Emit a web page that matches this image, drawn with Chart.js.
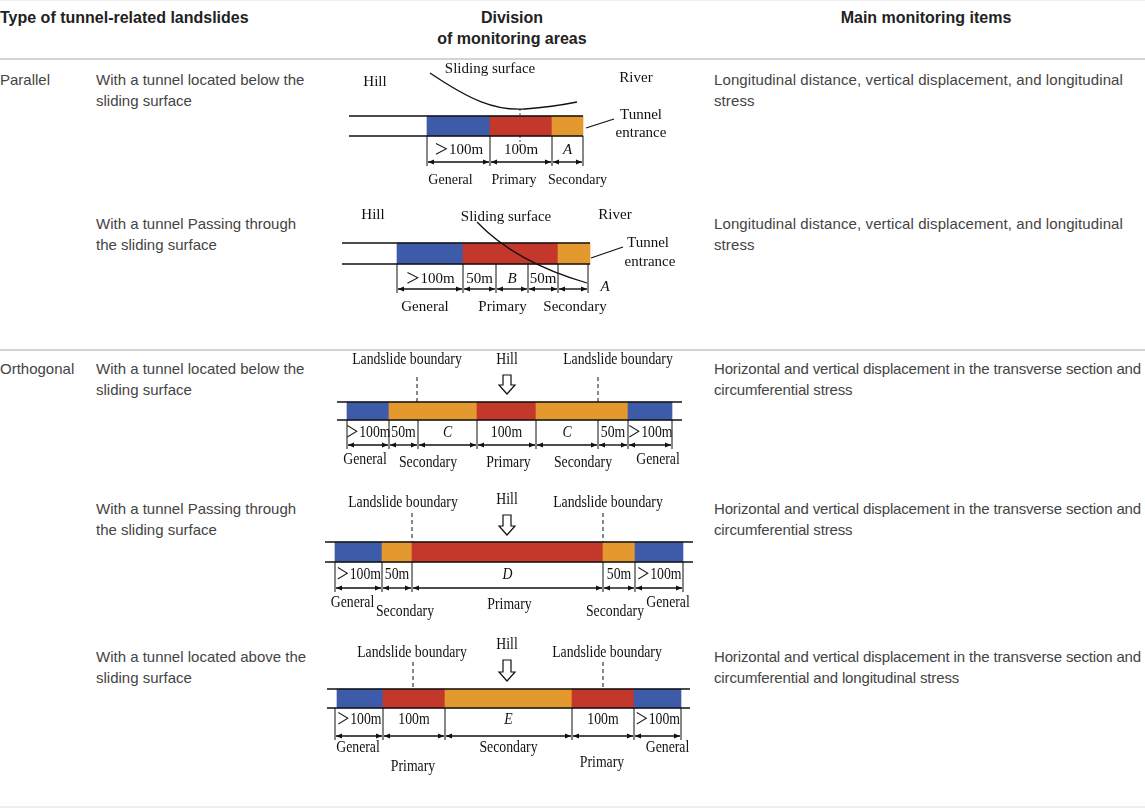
<!DOCTYPE html>
<html>
<head>
<meta charset="utf-8">
<script src="https://cdn.jsdelivr.net/npm/chart.js@4.4.1/dist/chart.umd.min.js"></script>
<style>
  html, body { margin: 0; padding: 0; background: #fff; }
  #page { position: relative; width: 1145px; height: 809px; overflow: hidden; }
  #diagrams { position: absolute; left: 0; top: 0; }
  .t { position: absolute; font-family: "Liberation Sans", Arial, sans-serif; font-size: 15px; line-height: 21px; color: #444; white-space: nowrap; }
  .h { font-weight: bold; color: #222; font-size: 16px; }
  .c { text-align: center; width: 240px; }
  .n { letter-spacing: -0.15px; }
  .rule { position: absolute; left: 0; width: 1145px; height: 2px; background: #d4d4d4; }
</style>
</head>
<body>
<div id="page">
  <div class="rule" style="top:0;height:1px;background:#eee"></div>
  <div class="rule" style="top:58px"></div>
  <div class="rule" style="top:349px"></div>
  <div class="rule" style="top:806px;background:#eee"></div>

  <div class="t h" style="left:0;top:7px">Type of tunnel-related landslides</div>
  <div class="t h c" style="left:392px;top:7px">Division<br>of monitoring areas</div>
  <div class="t h c" style="left:806px;top:7px">Main monitoring items</div>

  <div class="t" style="left:0;top:69px">Parallel</div>
  <div class="t" style="left:96px;top:69px">With a tunnel located below the<br>sliding surface</div>
  <div class="t" style="left:714px;top:69px;letter-spacing:0.1px">Longitudinal distance, vertical displacement, and longitudinal<br>stress</div>

  <div class="t" style="left:96px;top:213px">With a tunnel Passing through<br>the sliding surface</div>
  <div class="t" style="left:714px;top:213px;letter-spacing:0.1px">Longitudinal distance, vertical displacement, and longitudinal<br>stress</div>

  <div class="t" style="left:0;top:358px">Orthogonal</div>
  <div class="t" style="left:96px;top:358px">With a tunnel located below the<br>sliding surface</div>
  <div class="t n" style="left:714px;top:358px">Horizontal and vertical displacement in the transverse section and<br>circumferential stress</div>

  <div class="t" style="left:96px;top:498px">With a tunnel Passing through<br>the sliding surface</div>
  <div class="t n" style="left:714px;top:498px">Horizontal and vertical displacement in the transverse section and<br>circumferential stress</div>

  <div class="t" style="left:96px;top:646px">With a tunnel located above the<br>sliding surface</div>
  <div class="t n" style="left:714px;top:646px">Horizontal and vertical displacement in the transverse section and<br>circumferential and longitudinal stress</div>

  <canvas id="diagrams" width="1145" height="809"></canvas>
</div>

<script>
const zoneColors = { General: '#3e5ba9', Primary: '#c4372b', Secondary: '#e4992f' };

// parallel, tunnel below the sliding surface
const pbZones = ['General', 'Primary', 'Secondary'];
const pbLengths = [63, 62, 31];
const pbDimLabels = ['＞100m', '100m', 'A'];
const pbDimLengths = [63, 62, 31];

// parallel, tunnel passing through the sliding surface
const ptZones = ['General', 'Primary', 'Secondary'];
const ptLengths = [66, 95, 32];
const ptDimLabels = ['＞100m', '50m', 'B', '50m', 'A'];
const ptDimLengths = [66, 33, 32, 30, 30];

// orthogonal, tunnel below the sliding surface
const obZones = ['General', 'Secondary', 'Primary', 'Secondary', 'General'];
const obLengths = [42, 88, 59, 92, 44];
const obDimLabels = ['＞100m', '50m', 'C', '100m', 'C', '50m', '＞100m'];
const obDimLengths = [42, 29, 59, 59, 62, 30, 44];

// orthogonal, tunnel passing through the sliding surface
const otZones = ['General', 'Secondary', 'Primary', 'Secondary', 'General'];
const otLengths = [47, 30, 191, 32, 48];
const otDimLabels = ['＞100m', '50m', 'D', '50m', '＞100m'];
const otDimLengths = [47, 30, 191, 32, 48];

// orthogonal, tunnel above the sliding surface
const oaZones = ['General', 'Primary', 'Secondary', 'Primary', 'General'];
const oaLengths = [46, 62, 127, 62, 47];
const oaDimLabels = ['＞100m', '100m', 'E', '100m', '＞100m'];
const oaDimLengths = [48, 62, 127, 62, 47];

// where each sketch sits on the page
const diagrams = [
  { zones: pbZones, lengths: pbLengths, dims: pbDimLabels, dimLengths: pbDimLengths,
    start: 427, dimStart: 427, barY: 126, barH: 20, tube: [349, 583],
    dimTextY: 150, arrowY: 162, font: 15, zoneFont: 14, sx: 1,
    zoneY: [180, 180, 180], zoneDx: [-8, -7, 10], dimDx: [0, 0, 0], dimDy: [0, 0, 0] },
  { zones: ptZones, lengths: ptLengths, dims: ptDimLabels, dimLengths: ptDimLengths,
    start: 397, dimStart: 397, barY: 253.5, barH: 21, tube: [342, 590],
    dimTextY: 279, arrowY: 289, font: 15, zoneFont: 15, sx: 1,
    zoneY: [307, 307, 307], zoneDx: [-5, -8, 1], dimDx: [0, 0, 0, 0, 32], dimDy: [0, 0, 0, 0, 8] },
  { zones: obZones, lengths: obLengths, dims: obDimLabels, dimLengths: obDimLengths,
    start: 347, dimStart: 347, barY: 411, barH: 18, tube: [337, 682],
    dimTextY: 433, arrowY: 445, font: 16, zoneFont: 16, sx: 0.86,
    zoneY: [460, 463, 463, 463, 460], zoneDx: [-3, -5, 2, 1, 8], dimDx: [0, 0, 0, 0, 0, 0, 0], dimDy: [0, 0, 0, 0, 0, 0, 0] },
  { zones: otZones, lengths: otLengths, dims: otDimLabels, dimLengths: otDimLengths,
    start: 335, dimStart: 335, barY: 552, barH: 20, tube: [325, 693],
    dimTextY: 575, arrowY: 588, font: 16, zoneFont: 16, sx: 0.86,
    zoneY: [603, 612, 605, 612, 603], zoneDx: [-6, 8, 2, -4, 9], dimDx: [0, 0, 0, 0, 0], dimDy: [0, 0, 0, 0, 0] },
  { zones: oaZones, lengths: oaLengths, dims: oaDimLabels, dimLengths: oaDimLengths,
    start: 337, dimStart: 335, barY: 698.5, barH: 19, tube: [327, 690],
    dimTextY: 720, arrowY: 736, font: 16, zoneFont: 16, sx: 0.86,
    zoneY: [748, 767, 748, 763, 748], zoneDx: [-2, -1, 0, -1, 10], dimDx: [0, 0, 0, 0, 0], dimDy: [0, 0, 0, 0, 0] }
];

function cumulative(start, lengths) {
  const edges = [start];
  lengths.forEach(l => edges.push(edges[edges.length - 1] + l));
  return edges;
}

function label(ctx, str, x, y, size, opts = {}) {
  ctx.save();
  ctx.font = (opts.italic ? 'italic ' : '') + size + 'px "Liberation Serif", "Noto Sans CJK SC", serif';
  ctx.fillStyle = '#111';
  ctx.textAlign = 'center';
  ctx.textBaseline = 'middle';
  ctx.translate(x, y);
  ctx.scale(opts.sx || 1, 1);
  ctx.fillText(str, 0, 0);
  ctx.restore();
}

function line(ctx, x0, y0, x1, y1, dash) {
  ctx.save();
  ctx.setLineDash(dash || []);
  ctx.beginPath();
  ctx.moveTo(x0, y0);
  ctx.lineTo(x1, y1);
  ctx.stroke();
  ctx.restore();
}

function arrowHead(ctx, x, y, dir) {
  ctx.beginPath();
  ctx.moveTo(x, y);
  ctx.lineTo(x + dir * 6, y - 2.5);
  ctx.lineTo(x + dir * 6, y + 2.5);
  ctx.closePath();
  ctx.fill();
}

function hollowArrow(ctx, x, y0, y1) {
  const hw = 8, sw = 4, hh = 9;
  ctx.beginPath();
  ctx.moveTo(x - sw, y0);
  ctx.lineTo(x + sw, y0);
  ctx.lineTo(x + sw, y1 - hh);
  ctx.lineTo(x + hw, y1 - hh);
  ctx.lineTo(x, y1);
  ctx.lineTo(x - hw, y1 - hh);
  ctx.lineTo(x - sw, y1 - hh);
  ctx.closePath();
  ctx.stroke();
}

const sketchPlugin = {
  id: 'sketch',
  afterDatasetsDraw(chart) {
    const ctx = chart.ctx;
    const xs = chart.scales.x, ys = chart.scales.y;
    const px = v => xs.getPixelForValue(v);
    const py = v => ys.getPixelForValue(v);
    ctx.save();
    ctx.strokeStyle = '#111';
    ctx.fillStyle = '#111';

    diagrams.forEach(d => {
      const top = py(d.barY - d.barH / 2), bot = py(d.barY + d.barH / 2);
      ctx.lineWidth = 1.6;
      line(ctx, px(d.tube[0]), top, px(d.tube[1]), top);
      line(ctx, px(d.tube[0]), bot, px(d.tube[1]), bot);

      // dimension ticks, arrows and labels
      const edges = cumulative(d.dimStart, d.dimLengths);
      ctx.lineWidth = 1;
      edges.forEach(e => line(ctx, px(e), bot, px(e), py(d.arrowY + 4)));
      ctx.lineWidth = 1.4;
      for (let i = 0; i < d.dims.length; i++) {
        const a = px(edges[i]) + 1, b = px(edges[i + 1]) - 1;
        line(ctx, a, py(d.arrowY), b, py(d.arrowY));
        arrowHead(ctx, a, py(d.arrowY), 1);
        arrowHead(ctx, b, py(d.arrowY), -1);
        const italic = d.dims[i].length === 1;
        label(ctx, d.dims[i], px((edges[i] + edges[i + 1]) / 2 + d.dimDx[i]), py(d.dimTextY + d.dimDy[i]),
          d.font, { sx: d.sx, italic: italic });
      }

      // zone names under the sketch
      const zEdges = cumulative(d.start, d.lengths);
      d.zones.forEach((z, i) => {
        label(ctx, z, px((zEdges[i] + zEdges[i + 1]) / 2 + d.zoneDx[i]), py(d.zoneY[i]), d.zoneFont, { sx: d.sx });
      });
    });

    // parallel sketches
    ctx.lineWidth = 1.3;
    label(ctx, 'Hill', px(375), py(82), 15);
    label(ctx, 'Sliding surface', px(490), py(69), 15);
    label(ctx, 'River', px(636), py(78), 15);
    ctx.beginPath();
    ctx.moveTo(px(430), py(73));
    ctx.bezierCurveTo(px(470), py(100), px(495), py(111), px(525), py(109));
    ctx.quadraticCurveTo(px(552), py(107), px(577), py(102));
    ctx.stroke();
    ctx.lineWidth = 0.8;
    line(ctx, px(520), py(109), px(520), py(116), [2, 2]);
    line(ctx, px(520), py(136), px(520), py(146), [2, 2]);
    ctx.lineWidth = 1.3;
    label(ctx, 'Tunnel', px(641), py(115), 15);
    label(ctx, 'entrance', px(641), py(133), 15);
    line(ctx, px(586), py(128), px(614), py(119));

    label(ctx, 'Hill', px(373), py(215), 15);
    label(ctx, 'Sliding surface', px(506), py(217), 15);
    label(ctx, 'River', px(615), py(215), 15);
    ctx.beginPath();
    ctx.moveTo(px(477), py(222));
    ctx.quadraticCurveTo(px(515), py(262), px(587), py(283));
    ctx.stroke();
    label(ctx, 'Tunnel', px(648), py(243), 15);
    label(ctx, 'entrance', px(650), py(262), 15);
    line(ctx, px(591), py(258), px(623), py(247));

    // orthogonal sketches
    const ortho = [
      { lb: [407, 618], lbY: 360, hillY: 360, dash: [417, 598], dashY: [377, 402], arrow: [375, 394] },
      { lb: [403, 608], lbY: 503, hillY: 500, dash: [412, 603], dashY: [513, 542], arrow: [515, 535] },
      { lb: [412, 607], lbY: 653, hillY: 645, dash: [413, 603], dashY: [662, 689], arrow: [660, 681] }
    ];
    ortho.forEach(o => {
      label(ctx, 'Landslide boundary', px(o.lb[0]), py(o.lbY), 16, { sx: 0.86 });
      label(ctx, 'Landslide boundary', px(o.lb[1]), py(o.lbY), 16, { sx: 0.86 });
      label(ctx, 'Hill', px(507), py(o.hillY), 16, { sx: 0.86 });
      ctx.lineWidth = 1;
      o.dash.forEach(x => line(ctx, px(x), py(o.dashY[0]), px(x), py(o.dashY[1]), [4, 3]));
      ctx.lineWidth = 1.2;
      hollowArrow(ctx, px(507), py(o.arrow[0]), py(o.arrow[1]));
    });

    ctx.restore();
  }
};

const datasets = diagrams.map(d => {
  const edges = cumulative(d.start, d.lengths);
  return {
    data: d.lengths.map((l, i) => ({ x: [edges[i], edges[i + 1]], y: d.barY })),
    backgroundColor: d.zones.map(z => zoneColors[z]),
    borderWidth: 0,
    barThickness: d.barH,
    grouped: false
  };
});

const ctx = document.getElementById('diagrams').getContext('2d');
const sketchChart = new Chart(ctx, {
  type: 'bar',
  data: { datasets: datasets },
  options: {
    indexAxis: 'y',
    responsive: false,
    animation: false,
    events: [],
    layout: { padding: 0 },
    plugins: { legend: { display: false }, tooltip: { enabled: false } },
    scales: {
      x: { type: 'linear', min: 0, max: 1145, offset: false, display: false },
      y: { type: 'linear', min: 0, max: 809, reverse: true, offset: false, display: false }
    }
  },
  plugins: [sketchPlugin]
});
</script>
</body>
</html>
